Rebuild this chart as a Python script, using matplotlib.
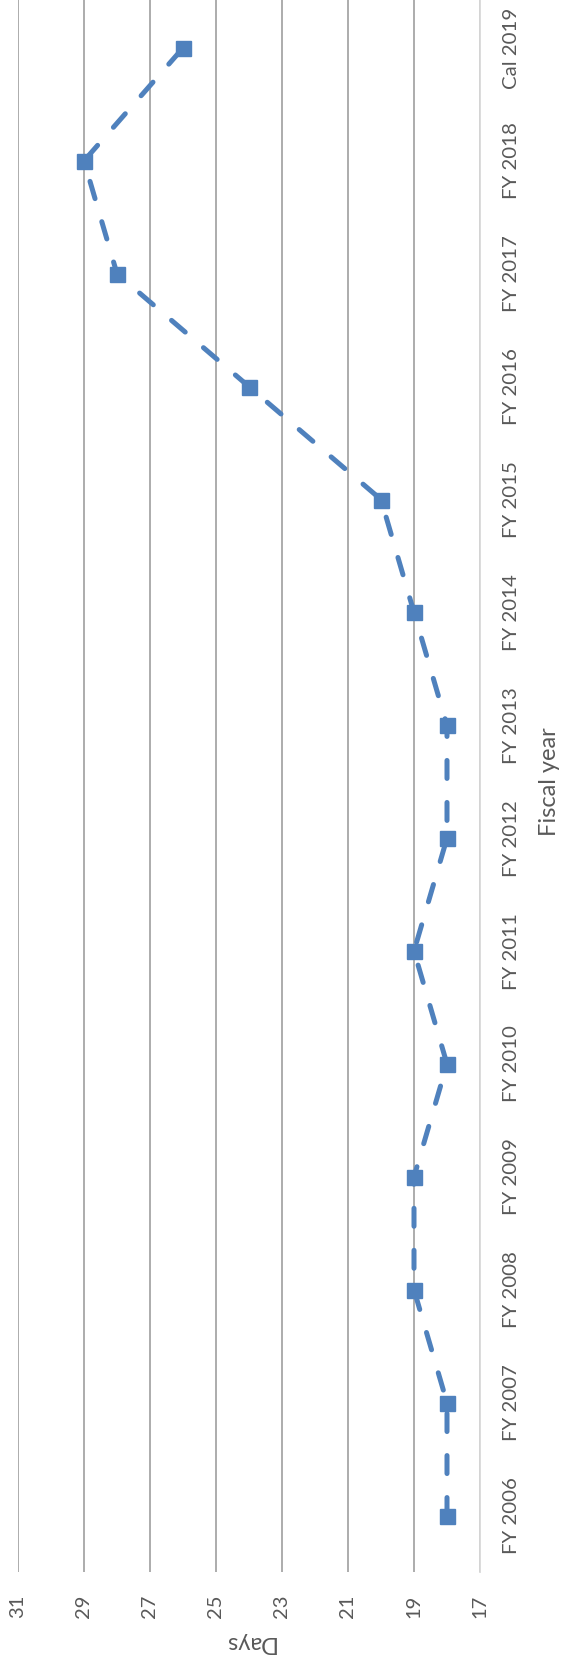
import numpy as np
import matplotlib.pyplot as plt

# Chart data (the original Excel chart is turned on its side)
years = ['FY 2006', 'FY 2007', 'FY 2008', 'FY 2009', 'FY 2010', 'FY 2011', 'FY 2012',
         'FY 2013', 'FY 2014', 'FY 2015', 'FY 2016', 'FY 2017', 'FY 2018', 'Cal 2019']
days = [18, 18, 19, 19, 18, 19, 18, 18, 19, 20, 24, 28, 29, 26]
day_ticks = [17, 19, 21, 23, 25, 27, 29, 31]

plt.rcParams['font.family'] = ['Lato', 'DejaVu Sans']
txt = '#595959'
blue = '#4f81bd'

fig = plt.figure(figsize=(5.65, 16.63), dpi=100)
# plot area runs a little past the top edge, as in the reference
ax = fig.add_axes([18 / 565, 91 / 1663, 462 / 565, 1580.5 / 1663])

pos = np.arange(len(years))
ax.plot(days, pos, color=blue, linewidth=3.6, dashes=(3.6, 4.8),
        dash_capstyle='round', solid_capstyle='round', zorder=3)
ax.plot(days, pos, linestyle='none', marker='s', markersize=10.8,
        color=blue, zorder=4)

# value axis (horizontal, reversed)
ax.set_xlim(31, 17)
ax.set_xticks(day_ticks)
ax.set_xticklabels([str(d) for d in day_ticks], rotation=90, fontsize=14.5,
                   color=txt, va='center')
ax.tick_params(axis='x', length=0, pad=24.5)
ax.grid(axis='x', color='#a6a6a6', linewidth=1.3)
ax.set_axisbelow(True)

# category axis (vertical, on the right)
ax.set_ylim(-0.5, len(years) - 0.5)
ax.set_yticks(pos)
ax.yaxis.tick_right()
ax.set_yticklabels(years, rotation=90, fontsize=14.7, color=txt,
                   va='center', ha='center')
ax.tick_params(axis='y', length=0, pad=23)

for s in ['top', 'bottom', 'left']:
    ax.spines[s].set_visible(False)
ax.spines['right'].set_color('#d9d9d9')
ax.spines['right'].set_linewidth(1.3)

ax.set_xlabel('Days', rotation=180, fontsize=17, color=txt, va='center', ha='center')
ax.xaxis.set_label_coords(0.5, -70 / 1580.5)
ax.yaxis.set_label_position('right')
ax.set_ylabel('Fiscal year', rotation=90, fontsize=17, color=txt,
              va='center', ha='center')
ax.yaxis.set_label_coords((550 - 18) / 462, 0.5)

fig.savefig('out.png', dpi=100)
